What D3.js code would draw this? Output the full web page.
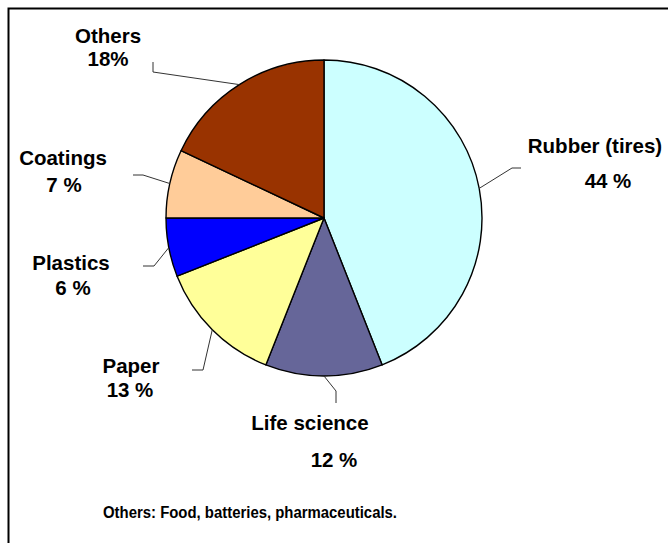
<!DOCTYPE html>
<html>
<head>
<meta charset="utf-8">
<script src="https://cdn.jsdelivr.net/npm/d3@7"></script>
<style>
  html, body { margin: 0; padding: 0; background: #fff; }
  svg { display: block; }
  text { font-family: "Liberation Sans", Arial, sans-serif; font-weight: bold; fill: #000; }
</style>
</head>
<body>
<svg id="chart" width="668" height="543"></svg>
<script>
// Market share by application (clockwise from 12 o'clock)
const categories = ["Rubber (tires)", "Life science", "Paper", "Plastics", "Coatings", "Others"];
const shares = [44, 12, 13, 6, 7, 18];
const shareLabels = ["44 %", "12 %", "13 %", "6 %", "7 %", "18%"];
const colors = ["#CCFFFF", "#666699", "#FFFF99", "#0000FF", "#FFCC99", "#993300"];
const footnote = "Others: Food, batteries, pharmaceuticals.";

// Label layout: name/value anchor points and leader-line elbows
const layout = [
  { name: [595, 153], value: [608, 188], elbow: [[512, 168], [521, 168]] },
  { name: [310, 430], value: [334, 467], elbow: [[336, 391], [336, 403]] },
  { name: [131, 373], value: [130, 397], elbow: [[203, 370], [192, 370]] },
  { name: [71, 270],  value: [73, 295],  elbow: [[154, 266], [143, 266]] },
  { name: [63, 165],  value: [64, 192],  elbow: [[143, 175], [133, 175]] },
  { name: [108, 43],  value: [108, 66],  elbow: [[153, 72], [153, 62]] }
];

const svg = d3.select("#chart");
const cx = 324, cy = 218, r = 158;

// Frame
svg.append("path")
  .attr("d", "M8.5,543 V8.5 H668")
  .attr("fill", "none")
  .attr("stroke", "#000")
  .attr("stroke-width", 2);

const pie = d3.pie().sort(null).value(d => d)(shares);
const arc = d3.arc().innerRadius(0).outerRadius(r);

const g = svg.append("g").attr("transform", `translate(${cx},${cy})`);

g.selectAll("path.slice")
  .data(pie)
  .join("path")
  .attr("class", "slice")
  .attr("d", arc)
  .attr("fill", (d, i) => colors[i])
  .attr("stroke", "#000")
  .attr("stroke-width", 1.4)
  .attr("stroke-linejoin", "round");

// Leader lines: from slice mid-angle on the rim through the elbow points
const line = d3.line();
pie.forEach((d, i) => {
  const a = (d.startAngle + d.endAngle) / 2;
  const start = [cx + r * Math.sin(a), cy - r * Math.cos(a)];
  svg.append("path")
    .attr("d", line([start, ...layout[i].elbow]))
    .attr("fill", "none")
    .attr("stroke", "#333")
    .attr("stroke-width", 1);
});

// Labels
categories.forEach((c, i) => {
  const L = layout[i];
  svg.append("text")
    .attr("x", L.name[0]).attr("y", L.name[1])
    .attr("text-anchor", "middle")
    .attr("font-size", 20.5)
    .text(c);
  svg.append("text")
    .attr("x", L.value[0]).attr("y", L.value[1])
    .attr("text-anchor", "middle")
    .attr("font-size", 20.5)
    .text(shareLabels[i]);
});

svg.append("text")
  .attr("x", 250).attr("y", 518)
  .attr("text-anchor", "middle")
  .attr("font-size", 16)
  .attr("textLength", 294)
  .attr("lengthAdjust", "spacingAndGlyphs")
  .text(footnote);
</script>
</body>
</html>
